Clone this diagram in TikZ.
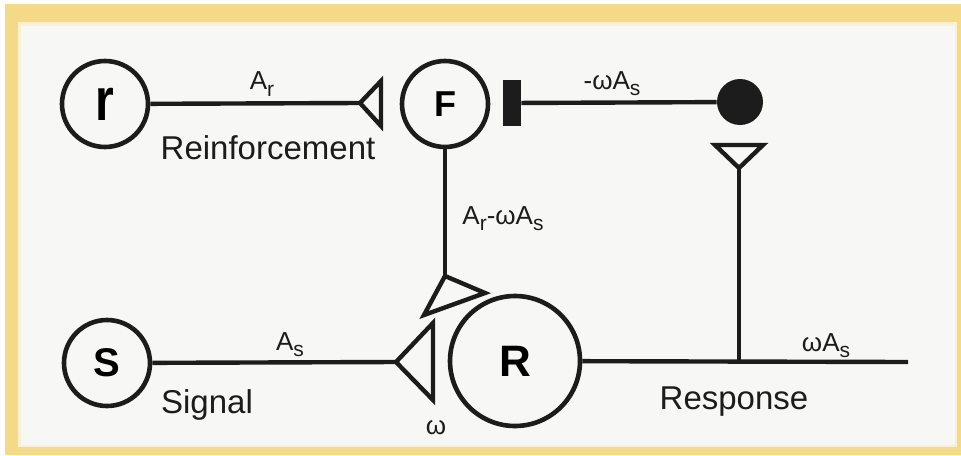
\documentclass[tikz,border=0pt]{standalone}
\usepackage{fontspec}
\setmainfont{Liberation Sans}
\definecolor{frame}{HTML}{F4DA86}
\definecolor{paper}{HTML}{F7F7F5}
\definecolor{ink}{HTML}{1C1C1C}
\newcommand{\lowsub}[1]{\raisebox{-0.45ex}{\fontsize{10.5}{12}\selectfont #1}}

\tikzset{
  cell/.style={circle, draw=ink, line width=2.3pt, inner sep=0pt},
  wire/.style={draw=ink, line width=2.2pt},
  syn/.style={draw=ink, line width=2.2pt, line join=miter},
  lbl/.style={text=ink, inner sep=0pt, font=\fontsize{13}{15}\selectfont},
  tag/.style={text=ink, inner sep=0pt, font=\fontsize{16.5}{19}\selectfont},
}

\begin{document}
\begin{tikzpicture}[x=0.5pt, y=-0.5pt]

% ---- frame ----
\useasboundingbox (0,0) rectangle (961,455);
\fill[white] (0,0) rectangle (961,455);
\fill[frame] (5,4) rectangle (961,455);
\fill[frame!40] (18,22) rectangle (957,447);
\fill[paper] (21,26) rectangle (955,445);

% ---- cells ----
\node[cell, minimum size=43pt] (r) at (105,104)
    {\scalebox{1}[1.25]{\fontsize{24}{28}\selectfont\bfseries r}};
\node[cell, minimum size=43pt] (F) at (445,104)
    {\fontsize{18}{20}\selectfont\bfseries F};
\node[cell, minimum size=43pt] (S) at (107,363)
    {\fontsize{20}{24}\selectfont\bfseries S};
\node[cell, minimum size=65pt] (R) at (515,361)
    {\fontsize{22}{26}\selectfont\bfseries R};
\node[circle, fill=ink, minimum size=23pt, inner sep=0pt] (dot) at (740,102) {};
\node[fill=ink, minimum width=9pt, minimum height=23pt, inner sep=0pt] (bar) at (512,103) {};

% ---- synapse points ----
\coordinate (tipr) at (360,103);
\coordinate (tipS) at (396,362);
\coordinate (tipF) at (445,276);
\coordinate (tipd) at (739,168);
\coordinate (join) at (739,362);
\coordinate (out) at (908,362);

% ---- wires ----
\draw[wire] (r) -- (tipr);
\draw[wire] (bar) -- (dot);
\draw[wire] (F) -- (tipF);
\draw[wire] (S) -- (tipS);
\draw[wire] (R) -- (out);
\draw[wire] (tipd) -- (join);

% ---- synapses ----
\draw[syn] (tipr) -- ++(21,-22) -- ++(0,45) -- cycle;
\draw[syn] (tipS) -- ++(37,-39) -- ++(0,77) -- cycle;
\draw[syn] (tipF) -- (424,315) -- (485,293) -- cycle;
\draw[syn] (tipd) -- ++(-24,-23) -- ++(48,0) -- cycle;

% ---- labels ----
\node[lbl] (lAr) at (262,84) {A\lowsub{r}};
\node[tag] (lre) at (268,148) {Reinforcement};
\node[lbl] (lwAs) at (612,84) {-ωA\lowsub{s}};
\node[lbl] (lAF) at (503,219) {A\lowsub{r}-ωA\lowsub{s}};
\node[lbl] (lAs) at (290,345) {A\lowsub{s}};
\node[tag] (lsig) at (207,405) {Signal};
\node[lbl] (lw) at (436,428) {ω};
\node[tag] (lres) at (734,402) {Response};
\node[lbl] (lout) at (826,346) {ωA\lowsub{s}};

\end{tikzpicture}
\end{document}
